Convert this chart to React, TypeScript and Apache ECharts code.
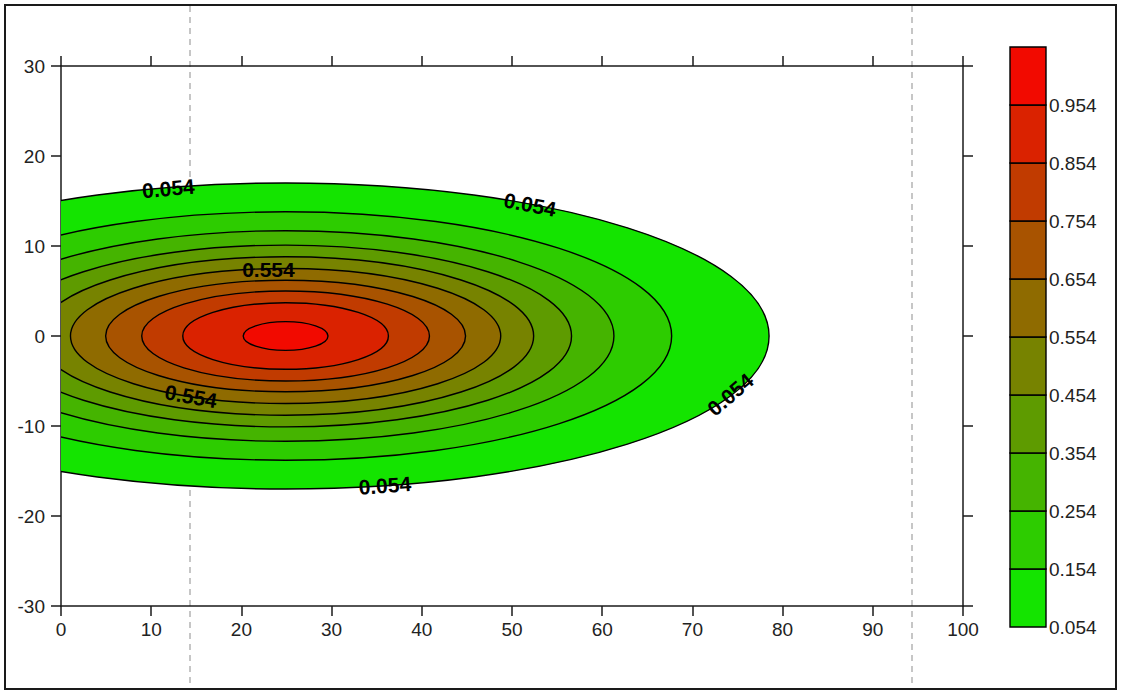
import React, { useEffect, useRef } from "react";
import * as echarts from "echarts";

// Contour levels (lower bound of each filled band)
const contourLevels = [0.054, 0.154, 0.254, 0.354, 0.454, 0.554, 0.654, 0.754, 0.854, 0.954];
const bandColors = [
  "#14e400", "#2dcc00", "#45b400", "#5e9b00", "#778300",
  "#8f6b00", "#a85300", "#c13b00", "#da2200", "#f20a00",
];

// Each iso-line is an ellipse around the plume centre (data units)
const plumeCenterX = 24.9;
const plumeCenterY = 0;
const semiAxisX = [53.6, 42.8, 36.4, 31.7, 27.5, 23.85, 19.95, 15.95, 11.4, 4.7];
const semiAxisY = [17.0, 13.8, 11.7, 10.1, 8.8, 7.5, 6.2, 5.0, 3.7, 1.6];

// Inline contour labels: position (data units), text, tilt in degrees
const labelText = ["0.054", "0.054", "0.554", "0.554", "0.054", "0.054"];
const labelX = [11.9, 52.0, 23.0, 14.4, 35.9, 74.2];
const labelY = [16.4, 14.6, 7.4, -6.7, -16.6, -6.5];
const labelAngle = [5, -11, 0, -10, 4, 40];

// Axis ranges
const xRange = [0, 100];
const xStep = 10;
const yRange = [-30, 30];
const yStep = 10;

const FONT = "'Liberation Sans', Arial, sans-serif";
const AXIS_COLOR = "#1a1a1a";
const TEXT_COLOR = "#222";

export default function App() {
  const ref = useRef<HTMLDivElement>(null);

  useEffect(() => {
    if (!ref.current) return;
    const chart = echarts.init(ref.current, undefined, { renderer: "svg" });

    const axisLineStyle = { color: AXIS_COLOR, width: 1.5 };
    const mainLabel = { color: TEXT_COLOR, fontSize: 19, fontFamily: FONT };

    const fillData = semiAxisX.map((a, i) => [plumeCenterX, plumeCenterY, a, semiAxisY[i], i]);
    const labelData = labelX.map((x, i) => [x, labelY[i], labelAngle[i], i]);
    const bandData = bandColors.map((_, k) => [0, k, 1, k + 1]);

    const option: any = {
      animation: false,
      backgroundColor: "#ffffff",
      grid: [
        { left: 61, top: 66, width: 902, height: 540 },
        { left: 1010, top: 47, width: 36, height: 580 },
      ],
      xAxis: [
        {
          gridIndex: 0,
          type: "value",
          min: xRange[0],
          max: xRange[1],
          interval: xStep,
          position: "bottom",
          axisLine: { show: true, onZero: false, lineStyle: axisLineStyle },
          axisTick: { show: true, length: 10, lineStyle: axisLineStyle },
          axisLabel: { ...mainLabel, margin: 14 },
          splitLine: { show: false },
        },
        {
          gridIndex: 0,
          type: "value",
          min: xRange[0],
          max: xRange[1],
          interval: xStep,
          position: "top",
          axisLine: { show: true, onZero: false, lineStyle: axisLineStyle },
          axisTick: { show: true, length: 10, lineStyle: axisLineStyle },
          axisLabel: { show: false },
          splitLine: { show: false },
        },
        { gridIndex: 1, type: "value", min: 0, max: 1, show: false },
      ],
      yAxis: [
        {
          gridIndex: 0,
          type: "value",
          min: yRange[0],
          max: yRange[1],
          interval: yStep,
          position: "left",
          axisLine: { show: true, onZero: false, lineStyle: axisLineStyle },
          axisTick: { show: true, length: 10, lineStyle: axisLineStyle },
          axisLabel: { ...mainLabel, margin: 16 },
          splitLine: { show: false },
        },
        {
          gridIndex: 0,
          type: "value",
          min: yRange[0],
          max: yRange[1],
          interval: yStep,
          position: "right",
          axisLine: { show: true, onZero: false, lineStyle: axisLineStyle },
          axisTick: { show: true, length: 10, lineStyle: axisLineStyle },
          axisLabel: { show: false },
          splitLine: { show: false },
        },
        {
          gridIndex: 1,
          type: "value",
          min: 0,
          max: contourLevels.length,
          interval: 1,
          position: "right",
          axisLine: { show: false },
          axisTick: { show: false },
          splitLine: { show: false },
          axisLabel: {
            ...mainLabel,
            margin: 3,
            formatter: (v: number) => (v < contourLevels.length ? contourLevels[v].toFixed(3) : ""),
          },
        },
      ],
      series: [
        {
          type: "custom",
          name: "bands",
          xAxisIndex: 0,
          yAxisIndex: 0,
          data: fillData,
          encode: { x: 0, y: 1 },
          z: 2,
          renderItem: (params: any, api: any) => {
            const i = api.value(4);
            const c = api.coord([api.value(0), api.value(1)]);
            const s = api.size([api.value(2), api.value(3)]);
            const cs = params.coordSys;
            return {
              type: "group",
              clipPath: { type: "rect", shape: { x: cs.x, y: cs.y, width: cs.width, height: cs.height } },
              children: [
                {
                  type: "ellipse",
                  shape: { cx: c[0], cy: c[1], rx: s[0], ry: s[1] },
                  style: { fill: bandColors[i], stroke: "#000", lineWidth: 1.4 },
                },
              ],
            };
          },
        },
        {
          type: "custom",
          name: "labels",
          xAxisIndex: 0,
          yAxisIndex: 0,
          data: labelData,
          encode: { x: 0, y: 1 },
          z: 3,
          renderItem: (_params: any, api: any) => {
            const i = api.value(3);
            const p = api.coord([api.value(0), api.value(1)]);
            return {
              type: "text",
              x: p[0],
              y: p[1],
              rotation: (api.value(2) * Math.PI) / 180,
              style: {
                text: labelText[i],
                fill: "#000",
                fontSize: 21,
                fontWeight: "bold",
                fontFamily: FONT,
                align: "center",
                verticalAlign: "middle",
              },
            };
          },
        },
        {
          type: "custom",
          name: "scale",
          xAxisIndex: 2,
          yAxisIndex: 2,
          data: bandData,
          encode: { x: 0, y: 1 },
          z: 2,
          renderItem: (params: any, api: any) => {
            const k = params.dataIndex;
            const p0 = api.coord([api.value(0), api.value(1)]);
            const p1 = api.coord([api.value(2), api.value(3)]);
            return {
              type: "rect",
              shape: { x: p0[0], y: p1[1], width: p1[0] - p0[0], height: p0[1] - p1[1] },
              style: { fill: bandColors[k], stroke: "#000", lineWidth: 1.4 },
            };
          },
        },
      ],
      graphic: [
        {
          type: "line",
          z: 0,
          shape: { x1: 190, y1: 6, x2: 190, y2: 688 },
          style: { stroke: "#b4b4b4", lineWidth: 1.5, lineDash: [6, 5] },
        },
        {
          type: "line",
          z: 0,
          shape: { x1: 912, y1: 6, x2: 912, y2: 688 },
          style: { stroke: "#b4b4b4", lineWidth: 1.5, lineDash: [6, 5] },
        },
        {
          type: "rect",
          z: 10,
          shape: { x: 5, y: 5, width: 1111, height: 684 },
          style: { fill: "none", stroke: "#1a1a1a", lineWidth: 2 },
        },
      ],
    };

    chart.setOption(option);
    return () => chart.dispose();
  }, []);

  return (
    <div
      ref={ref}
      style={{ position: "absolute", left: 0, top: 0, width: 1121, height: 693 }}
    />
  );
}
